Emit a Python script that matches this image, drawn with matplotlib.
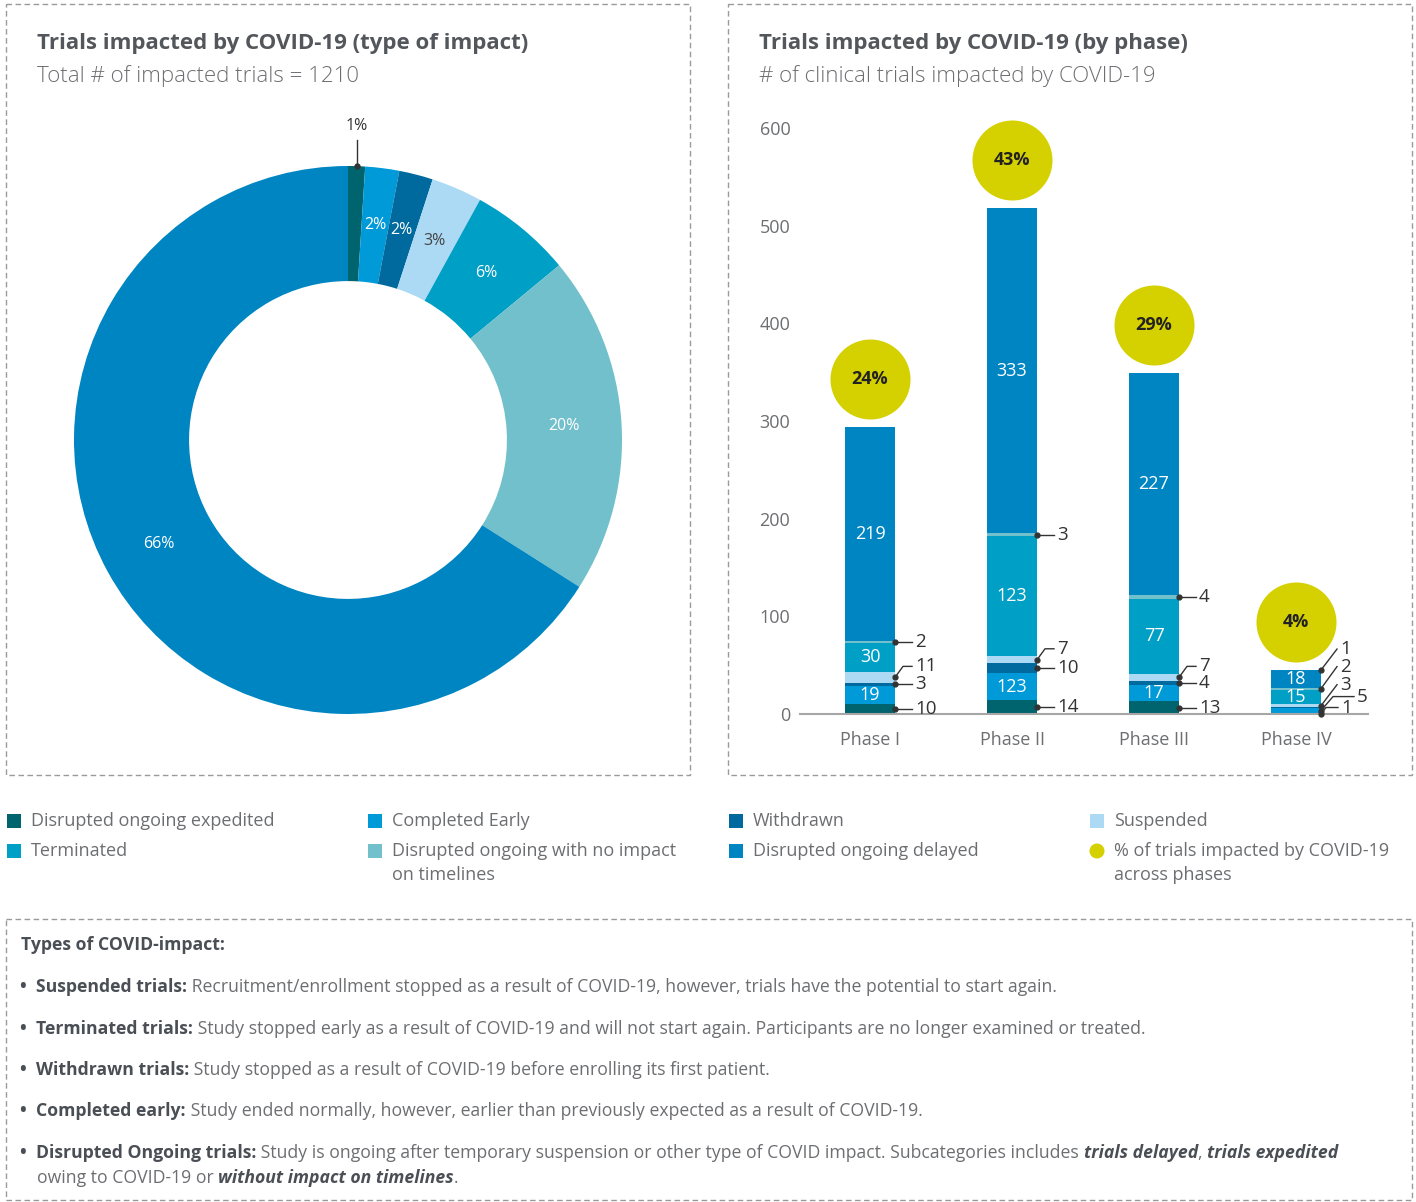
import matplotlib.pyplot as plt
from matplotlib.patches import Rectangle, Circle
import numpy as np

plt.rcParams['font.family'] = ['Open Sans', 'DejaVu Sans']

# ---- donut: share of impacted trials by type (starting at 12 o'clock, clockwise)
impact_types = [
    "Disrupted ongoing expedited",
    "Completed Early",
    "Withdrawn",
    "Suspended",
    "Terminated",
    "Disrupted ongoing with no impact\non timelines",
    "Disrupted ongoing delayed",
]
impact_share = [1, 2, 2, 3, 6, 20, 66]
total_impacted = 1210

# ---- stacked bars: trials by phase (bottom to top)
phases = ["Phase I", "Phase II", "Phase III", "Phase IV"]
expedited = [10, 14, 13, 1]
completed_early = [19, 28, 17, 5]
withdrawn = [3, 10, 4, 1]
suspended = [11, 7, 7, 3]
terminated = [30, 123, 77, 15]
no_impact = [2, 3, 4, 2]
delayed = [219, 333, 227, 18]
# Phase II "completed early" is printed as 123 in the source chart
completed_early_printed = ["19", "123", "17", "5"]
phase_share = ["24%", "43%", "29%", "4%"]

colors = ["#00646e", "#009ad9", "#006a9e", "#acd9f4", "#009fc6", "#72c0cb", "#0085c3"]
yellow = "#d5d000"
dark = "#333333"
grey = "#6d6e71"
title_col = "#53565a"

fig = plt.figure(figsize=(14.16, 12.02), dpi=100)
W, H = 1416, 1202

# background axes in pixel coordinates for frames, titles, legend and notes
bg = fig.add_axes([0, 0, 1, 1])
bg.set_xlim(0, W)
bg.set_ylim(H, 0)
bg.axis("off")

for x0, y0, w, h in [(6, 4, 684, 771), (728, 4, 684, 771), (6, 919, 1406, 281)]:
    bg.add_patch(Rectangle((x0, y0), w, h, fill=False, ec="#9a9a9a", lw=1,
                           ls=(0, (4, 2.5))))

bg.text(37, 44, "Trials impacted by COVID-19 (type of impact)", fontsize=16,
        fontweight="bold", color=title_col, va="center")
bg.text(37, 76, f"Total # of impacted trials = {total_impacted}", fontsize=16,
        fontweight="light", color=grey, va="center")
bg.text(759, 44, "Trials impacted by COVID-19 (by phase)", fontsize=16,
        fontweight="bold", color=title_col, va="center")
bg.text(759, 76, "# of clinical trials impacted by COVID-19", fontsize=16,
        fontweight="light", color=grey, va="center")

# ---- donut
pie_ax = fig.add_axes([(348 - 274) / W, (H - 440 - 274) / H, 548 / W, 548 / H])
pie_ax.set_facecolor("none")
wedges, _ = pie_ax.pie(impact_share, colors=colors, startangle=90, counterclock=False,
                       wedgeprops=dict(width=0.42, linewidth=0))
pie_ax.set_xlim(-1, 1)
pie_ax.set_ylim(-1, 1)
pie_ax.set_aspect("equal")

for i, w in enumerate(wedges):
    ang = np.deg2rad((w.theta1 + w.theta2) / 2)
    if i == 0:
        # tiny slice: label outside with a leader line
        x = np.cos(ang)
        pie_ax.plot([x, x], [np.sin(ang), 1.095], color=dark, lw=1, clip_on=False)
        pie_ax.plot([x], [np.sin(ang)], "o", ms=3.5, color=dark, clip_on=False)
        pie_ax.text(x, 1.145, f"{impact_share[i]}%", ha="center", va="center",
                    fontsize=11.5, color=dark)
        continue
    tcol = "#444444" if i == 3 else "white"
    pie_ax.text(0.79 * np.cos(ang), 0.79 * np.sin(ang), f"{impact_share[i]}%",
                ha="center", va="center", fontsize=11.5, color=tcol)

# ---- stacked bars
ax = fig.add_axes([800 / W, (H - 714) / H, 568 / W, 586 / H])
ax.set_facecolor("none")
ax.set_xlim(-0.493, 3.507)
ax.set_ylim(0, 600)
px_x = 1 / 142.0
px_y = 600 / 586.0

series = [expedited, completed_early, withdrawn, suspended, terminated, no_impact, delayed]
printed = [[str(v) for v in s] for s in series]
printed[1] = completed_early_printed

xpos = np.arange(len(phases))
bw = 50 * px_x
bottoms = np.zeros(len(phases))
for s, col in zip(series, colors):
    ax.bar(xpos, s, bw, bottom=bottoms, color=col, linewidth=0, zorder=2)
    bottoms = bottoms + np.array(s)
totals = bottoms

# outside label layout: (text shift px, elbow px, line length px, anchor)
layout = {
    (0, 3): (11, 8, 17, "mid"),
    (1, 3): (11, 8, 17, "mid"),
    (2, 3): (11, 8, 17, "mid"),
    (3, 2): (21, 16, 16, "top"),
    (3, 5): (22, 16, 16, "mid"),
    (3, 3): (21, 16, 16, "mid"),
    (3, 1): (14, 12, 33, "mid"),
    (3, 0): (6, 5, 17, "mid"),
}

for p in range(len(phases)):
    base = 0
    edge = xpos[p] + bw / 2
    for k, s in enumerate(series):
        v = s[p]
        mid = base + v / 2
        if v >= 15:
            ax.text(xpos[p], mid, printed[k][p], ha="center", va="center",
                    fontsize=13, color="white", zorder=3)
        else:
            dy, ex, lx, anchor = layout.get((p, k), (0, 8, 17, "mid"))
            ydot = totals[p] if anchor == "top" else mid
            ytxt = ydot + dy * px_y
            ax.plot([edge, edge + ex * px_x, edge + lx * px_x], [ydot, ytxt, ytxt],
                    color=dark, lw=1, zorder=4, clip_on=False)
            ax.plot([edge], [ydot], "o", ms=3.5, color=dark, zorder=5, clip_on=False)
            ax.text(edge + (lx + 3) * px_x, ytxt, printed[k][p], ha="left",
                    va="center", fontsize=13.5, color=dark)
        base += v

# share of trials per phase (bubbles above bars)
bubble_y = totals + 49
ax.scatter(xpos, bubble_y, s=3318, color=yellow, zorder=3, clip_on=False, lw=0)
for p in range(len(phases)):
    ax.text(xpos[p], bubble_y[p], phase_share[p], ha="center", va="center",
            fontsize=13, fontweight="bold", color="#222222", zorder=4)

for sp in ["left", "right", "top"]:
    ax.spines[sp].set_visible(False)
ax.spines["bottom"].set_color("#a6a6a6")
ax.spines["bottom"].set_linewidth(1.5)
ax.set_yticks([0, 100, 200, 300, 400, 500, 600])
ax.set_xticks(xpos)
ax.set_xticklabels(phases)
ax.tick_params(axis="y", length=0, pad=7, labelsize=13, labelcolor=grey)
ax.tick_params(axis="x", length=0, pad=12, labelsize=13, labelcolor=grey)

# ---- legend
legend_items = [
    (7, 821, 0), (368, 821, 1), (729, 821, 2), (1090, 821, 3),
    (7, 851, 4), (368, 851, 5), (729, 851, 6),
]
for x0, y0, idx in legend_items:
    bg.add_patch(Rectangle((x0, y0 - 7), 14, 14, color=colors[idx], lw=0))
    bg.text(x0 + 24, y0 - 9, impact_types[idx], fontsize=13, color=grey,
            va="top", linespacing=1.45)
bg.add_patch(Circle((1097, 851), 7.5, color=yellow, lw=0))
bg.text(1114, 842, "% of trials impacted by COVID-19\nacross phases", fontsize=13,
        color=grey, va="top", linespacing=1.45)

# ---- notes box
note_dark = "#4a4f55"


def chain(x, y, parts, size=12.7):
    prev = None
    for txt, style in parts:
        kw = dict(fontsize=size, color=note_dark if style != "r" else grey)
        if style == "b":
            kw["fontweight"] = "bold"
        elif style == "bi":
            kw["fontweight"] = "bold"
            kw["fontstyle"] = "italic"
        else:
            kw["fontweight"] = "normal"
        if prev is None:
            prev = bg.text(x, y, txt, va="bottom", ha="left", **kw)
        else:
            prev = bg.annotate(txt, xy=(1, 0), xycoords=prev, va="bottom",
                               ha="left", **kw)


bg.text(21, 945, "Types of COVID-impact:", fontsize=12.7, fontweight="bold",
        color=note_dark, va="center")
notes = [
    (985, [("•  ", "b"), ("Suspended trials:", "b"),
           (" Recruitment/enrollment stopped as a result of COVID-19, however, trials have the potential to start again.", "r")]),
    (1027, [("•  ", "b"), ("Terminated trials:", "b"),
            (" Study stopped early as a result of COVID-19 and will not start again. Participants are no longer examined or treated.", "r")]),
    (1068, [("•  ", "b"), ("Withdrawn trials:", "b"),
            (" Study stopped as a result of COVID-19 before enrolling its first patient.", "r")]),
    (1109, [("•  ", "b"), ("Completed early:", "b"),
            (" Study ended normally, however, earlier than previously expected as a result of COVID-19.", "r")]),
    (1151, [("•  ", "b"), ("Disrupted Ongoing trials:", "b"),
            (" Study is ongoing after temporary suspension or other type of COVID impact. Subcategories includes ", "r"),
            ("trials delayed", "bi"), (", ", "r"), ("trials expedited", "bi")]),
    (1176, [("owing to COVID-19 or ", "r"), ("without impact on timelines", "bi"), (".", "r")]),
]
for y, parts in notes:
    x = 37 if y == 1176 else 20
    chain(x, y + 11, parts)

fig.savefig("out.png", dpi=100)
